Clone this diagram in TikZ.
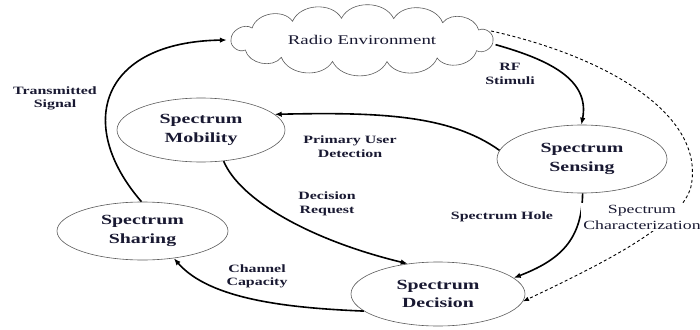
\documentclass[tikz,border=0pt]{standalone}
\usepackage{fontspec}
\setmainfont{Liberation Serif}[FakeStretch=1.42]
\usetikzlibrary{shapes.geometric,arrows.meta}
\definecolor{txt}{RGB}{25,25,50}
\definecolor{edge}{RGB}{90,90,90}
\begin{document}
\begin{tikzpicture}[x=1pt,y=-1pt,
  stnode/.style={ellipse, draw=edge, line width=0.6pt, inner sep=0pt, align=center,
    text=txt, font=\fontsize{14}{18.5}\selectfont\bfseries},
  lbl/.style={align=center, text=txt, inner sep=1pt, font=\fontsize{11.2}{13.5}\selectfont\bfseries},
  flow/.style={line width=1.6pt, -{Latex[length=7pt,width=5.5pt]}},
  dflow/.style={line width=0.9pt, dash pattern=on 3pt off 2.5pt, -{Latex[length=6pt,width=4.5pt]}},
  puff/.style={draw=edge, line width=0.6pt}]
\useasboundingbox (0,0) rectangle (700,329);
% cloud outline
\draw[puff] ({362+131},40)
  \foreach \a in {27,52,76,99,122,147,180,207,232,257,281,305,331,360}
    { to[bend right=64] ({362+131*cos(\a)},{40-22*sin(\a)}) };
\node[ellipse, minimum width=270pt, minimum height=60pt, inner sep=0pt, text=txt,
  font=\fontsize{13.3}{15}\selectfont] (env) at (362,40) {Radio Environment};
\node[stnode, minimum width=168pt, minimum height=64pt] (mob) at (201,130) {Spectrum\\Mobility};
\node[stnode, minimum width=170pt, minimum height=68pt] (sen) at (582,159) {Spectrum\\Sensing};
\node[stnode, minimum width=171pt, minimum height=58pt] (sh) at (142.5,231) {Spectrum\\Sharing};
\node[stnode, minimum width=174pt, minimum height=64pt] (dec) at (438,294) {Spectrum\\Decision};
% connectors
\draw[flow] (sh.92) .. controls (75,125) and (100,42) .. (env.west);
\draw[flow] (env.-2) .. controls (550,60) and (590,80) .. (sen.91);
\draw[flow] (sen.174) .. controls (450,115) and (380,112) .. (mob.12);
\draw[flow] (mob.-54) .. controls (240,200) and (310,240) .. (dec.135);
\draw[flow] (sen.-89) .. controls (582,240) and (560,260) .. (dec.12);
\draw[flow] (dec.193) .. controls (290,308) and (210,300) .. (sh.-41);
\draw[dflow] (env.4) .. controls (600,55) and (700,110) .. (692,180)
  .. controls (690,220) and (610,260) .. (dec.-5);
% labels
\node[lbl] (l1) at (55,98.5) {Transmitted\\Signal};
\node[lbl] (l2) at (510,74) {RF\\Stimuli};
\node[lbl] (l3) at (350,146.5) {Primary User\\Detection};
\node[lbl] (l4) at (327,204) {Decision\\Request};
\node[lbl] (l5) at (502,217) {Spectrum Hole};
\node[lbl] (l6) at (257,276.5) {Channel\\Capacity};
\node[align=center, text=txt, fill=white, inner sep=2pt,
  font=\fontsize{12.5}{16}\selectfont] (l7) at (642,217) {Spectrum\\Characterization};
\end{tikzpicture}
\end{document}
